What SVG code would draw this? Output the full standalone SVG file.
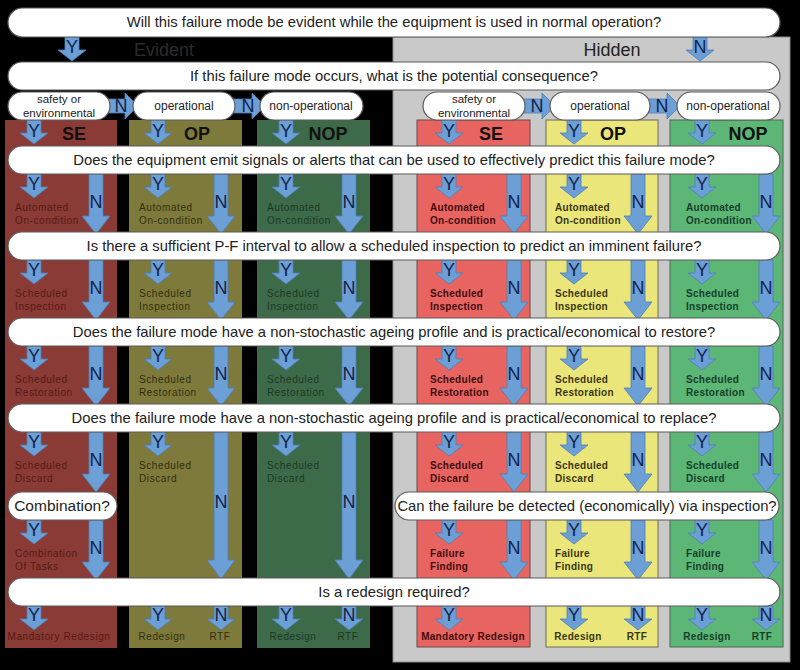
<svg xmlns="http://www.w3.org/2000/svg" xmlns:xlink="http://www.w3.org/1999/xlink" width="800" height="670" viewBox="0 0 800 670">
<style>
.pill{fill:#ffffff;stroke:#5a5a5a;stroke-width:1.2}
.q{font-family:"Liberation Sans",Arial,sans-serif;font-size:14.8px;fill:#222;text-anchor:middle}
.c{font-family:"Liberation Sans",Arial,sans-serif;font-size:12px;fill:#222;text-anchor:middle}
.c2{font-family:"Liberation Sans",Arial,sans-serif;font-size:11.5px;fill:#222;text-anchor:middle}
.ar{fill:#6b9fd6;stroke:#4f7fb8;stroke-width:0.8}
.yn{font-family:"Liberation Sans",Arial,sans-serif;font-size:18px;fill:#14244a;text-anchor:middle}
.hd{font-family:"Liberation Sans",Arial,sans-serif;font-size:18px;font-weight:bold;fill:#111;text-anchor:middle}
.ll{font-family:"Liberation Sans",Arial,sans-serif;font-size:10px;letter-spacing:0.6px}
.lr{font-family:"Liberation Sans",Arial,sans-serif;font-size:10px;font-weight:bold;letter-spacing:0.3px}
.t1{fill:#561a15}.t2{fill:#302e0e}.t3{fill:#1c3824}
.t4{fill:#3e0c0c}.t5{fill:#3a3612}.t6{fill:#17402a}
.mid{text-anchor:middle}
</style>
<defs>
<path id="ya" class="ar" d="M-7,0 H7 V13 H14 L0,24 L-14,13 H-7 Z"/>
<path id="na" class="ar" d="M-7,0 H7 V42 H14 L0,60 L-14,42 H-7 Z"/>
<path id="nl" class="ar" d="M-7,0 H7 V128 H14 L0,147 L-14,128 H-7 Z"/>
<path id="ha" class="ar" d="M0,-7 H20 V-13 L33,0 L20,13 V7 H0 Z"/>
</defs>
<rect x="0" y="0" width="800" height="670" fill="#000"/>
<g id="hidden-panel">
<rect x="393" y="37" width="397" height="625" fill="#c9c9c9" stroke="#8a8a8a" stroke-width="1"/>
<text x="612" y="56" font-family="Liberation Sans,Arial,sans-serif" font-size="18" fill="#222" text-anchor="middle">Hidden</text>
</g>
<g id="evident-label">
<text x="164" y="56" font-family="Liberation Sans,Arial,sans-serif" font-size="18" fill="#2b2b2b" text-anchor="middle">Evident</text>
</g>
<g id="col-se-evident">
<rect x="5" y="120" width="112" height="528" fill="#8a3b35"/>
<text class="hd" x="74" y="140">SE</text>
<g class="ll t1">
<text x="15" y="211">Automated</text><text x="15" y="224">On-condition</text>
<text x="15" y="297">Scheduled</text><text x="15" y="310">Inspection</text>
<text x="15" y="383">Scheduled</text><text x="15" y="396">Restoration</text>
<text x="15" y="469">Scheduled</text><text x="15" y="482">Discard</text>
<text x="15" y="557">Combination</text><text x="15" y="570">Of Tasks</text>
<text x="59" y="640" class="mid">Mandatory Redesign</text>
</g>
</g>
<g id="col-op-evident">
<rect x="129" y="120" width="113" height="528" fill="#7e7a3c"/>
<text class="hd" x="197" y="140">OP</text>
<g class="ll t2">
<text x="139" y="211">Automated</text><text x="139" y="224">On-condition</text>
<text x="139" y="297">Scheduled</text><text x="139" y="310">Inspection</text>
<text x="139" y="383">Scheduled</text><text x="139" y="396">Restoration</text>
<text x="139" y="469">Scheduled</text><text x="139" y="482">Discard</text>
<text x="162" y="640" class="mid">Redesign</text><text x="220" y="640" class="mid">RTF</text>
</g>
</g>
<g id="col-nop-evident">
<rect x="257" y="120" width="113" height="528" fill="#3d6b4a"/>
<text class="hd" x="328" y="140">NOP</text>
<g class="ll t3">
<text x="267" y="211">Automated</text><text x="267" y="224">On-condition</text>
<text x="267" y="297">Scheduled</text><text x="267" y="310">Inspection</text>
<text x="267" y="383">Scheduled</text><text x="267" y="396">Restoration</text>
<text x="267" y="469">Scheduled</text><text x="267" y="482">Discard</text>
<text x="293" y="640" class="mid">Redesign</text><text x="348" y="640" class="mid">RTF</text>
</g>
</g>
<g id="col-se-hidden">
<rect x="417" y="120" width="113" height="527" fill="#e86460" stroke="#6a4a4a" stroke-width="1"/>
<text class="hd" x="491" y="140">SE</text>
<g class="lr t4">
<text x="430" y="211">Automated</text><text x="430" y="224">On-condition</text>
<text x="430" y="297">Scheduled</text><text x="430" y="310">Inspection</text>
<text x="430" y="383">Scheduled</text><text x="430" y="396">Restoration</text>
<text x="430" y="469">Scheduled</text><text x="430" y="482">Discard</text>
<text x="430" y="557">Failure</text><text x="430" y="570">Finding</text>
<text x="473" y="640" class="mid">Mandatory Redesign</text>
</g>
</g>
<g id="col-op-hidden">
<rect x="546" y="120" width="112" height="527" fill="#ebe67a" stroke="#6a6a5a" stroke-width="1"/>
<text class="hd" x="613" y="140">OP</text>
<g class="lr t5">
<text x="555" y="211">Automated</text><text x="555" y="224">On-condition</text>
<text x="555" y="297">Scheduled</text><text x="555" y="310">Inspection</text>
<text x="555" y="383">Scheduled</text><text x="555" y="396">Restoration</text>
<text x="555" y="469">Scheduled</text><text x="555" y="482">Discard</text>
<text x="555" y="557">Failure</text><text x="555" y="570">Finding</text>
<text x="578" y="640" class="mid">Redesign</text><text x="637" y="640" class="mid">RTF</text>
</g>
</g>
<g id="col-nop-hidden">
<rect x="670" y="120" width="113" height="527" fill="#5cb676" stroke="#4a6a55" stroke-width="1"/>
<text class="hd" x="748" y="140">NOP</text>
<g class="lr t6">
<text x="686" y="211">Automated</text><text x="686" y="224">On-condition</text>
<text x="686" y="297">Scheduled</text><text x="686" y="310">Inspection</text>
<text x="686" y="383">Scheduled</text><text x="686" y="396">Restoration</text>
<text x="686" y="469">Scheduled</text><text x="686" y="482">Discard</text>
<text x="686" y="557">Failure</text><text x="686" y="570">Finding</text>
<text x="707" y="640" class="mid">Redesign</text><text x="762" y="640" class="mid">RTF</text>
</g>
</g>
<g id="connectors">
<use href="#ya" x="72" y="37"/><use href="#ya" x="700" y="37"/>
<use href="#ha" x="105" y="106"/><use href="#ha" x="232" y="106"/>
<use href="#ha" x="522" y="106"/><use href="#ha" x="647" y="106"/>
<use href="#ya" x="34" y="120"/><use href="#ya" x="158" y="120"/><use href="#ya" x="286" y="120"/>
<use href="#ya" x="449" y="120"/><use href="#ya" x="574" y="120"/><use href="#ya" x="702" y="120"/>
<use href="#ya" x="34" y="174"/><use href="#ya" x="158" y="174"/><use href="#ya" x="286" y="174"/>
<use href="#ya" x="449" y="174"/><use href="#ya" x="574" y="174"/><use href="#ya" x="702" y="174"/>
<use href="#na" x="96" y="174"/><use href="#na" x="221" y="174"/><use href="#na" x="349" y="174"/>
<use href="#na" x="514" y="174"/><use href="#na" x="638" y="174"/><use href="#na" x="766" y="174"/>
<use href="#ya" x="34" y="260"/><use href="#ya" x="158" y="260"/><use href="#ya" x="286" y="260"/>
<use href="#ya" x="449" y="260"/><use href="#ya" x="574" y="260"/><use href="#ya" x="702" y="260"/>
<use href="#na" x="96" y="260"/><use href="#na" x="221" y="260"/><use href="#na" x="349" y="260"/>
<use href="#na" x="514" y="260"/><use href="#na" x="638" y="260"/><use href="#na" x="766" y="260"/>
<use href="#ya" x="34" y="346"/><use href="#ya" x="158" y="346"/><use href="#ya" x="286" y="346"/>
<use href="#ya" x="449" y="346"/><use href="#ya" x="574" y="346"/><use href="#ya" x="702" y="346"/>
<use href="#na" x="96" y="346"/><use href="#na" x="221" y="346"/><use href="#na" x="349" y="346"/>
<use href="#na" x="514" y="346"/><use href="#na" x="638" y="346"/><use href="#na" x="766" y="346"/>
<use href="#ya" x="34" y="432"/><use href="#ya" x="158" y="432"/><use href="#ya" x="286" y="432"/>
<use href="#ya" x="449" y="432"/><use href="#ya" x="574" y="432"/><use href="#ya" x="702" y="432"/>
<use href="#na" x="96" y="432"/><use href="#nl" x="221" y="432"/><use href="#nl" x="349" y="432"/>
<use href="#na" x="514" y="432"/><use href="#na" x="638" y="432"/><use href="#na" x="766" y="432"/>
<use href="#ya" x="34" y="520"/>
<use href="#ya" x="449" y="520"/><use href="#ya" x="574" y="520"/><use href="#ya" x="702" y="520"/>
<use href="#na" x="96" y="520"/>
<use href="#na" x="514" y="520"/><use href="#na" x="638" y="520"/><use href="#na" x="766" y="520"/>
<use href="#ya" x="34" y="606"/><use href="#ya" x="158" y="606"/><use href="#ya" x="286" y="606"/>
<use href="#ya" x="449" y="606"/><use href="#ya" x="574" y="606"/><use href="#ya" x="702" y="606"/>
<use href="#ya" x="221" y="606"/><use href="#ya" x="349" y="606"/>
<use href="#ya" x="638" y="606"/><use href="#ya" x="766" y="606"/>
<g class="yn">
<text x="72" y="53">Y</text><text x="700" y="53">N</text>
<text x="121" y="112">N</text><text x="248" y="112">N</text><text x="537" y="112">N</text><text x="662" y="112">N</text>
<text x="34" y="137">Y</text><text x="158" y="137">Y</text><text x="286" y="137">Y</text>
<text x="449" y="137">Y</text><text x="574" y="137">Y</text><text x="702" y="137">Y</text>
<text x="34" y="190">Y</text><text x="158" y="190">Y</text><text x="286" y="190">Y</text>
<text x="449" y="190">Y</text><text x="574" y="190">Y</text><text x="702" y="190">Y</text>
<text x="96" y="208">N</text><text x="221" y="208">N</text><text x="349" y="208">N</text>
<text x="514" y="208">N</text><text x="638" y="208">N</text><text x="766" y="208">N</text>
<text x="34" y="276">Y</text><text x="158" y="276">Y</text><text x="286" y="276">Y</text>
<text x="449" y="276">Y</text><text x="574" y="276">Y</text><text x="702" y="276">Y</text>
<text x="96" y="294">N</text><text x="221" y="294">N</text><text x="349" y="294">N</text>
<text x="514" y="294">N</text><text x="638" y="294">N</text><text x="766" y="294">N</text>
<text x="34" y="362">Y</text><text x="158" y="362">Y</text><text x="286" y="362">Y</text>
<text x="449" y="362">Y</text><text x="574" y="362">Y</text><text x="702" y="362">Y</text>
<text x="96" y="380">N</text><text x="221" y="380">N</text><text x="349" y="380">N</text>
<text x="514" y="380">N</text><text x="638" y="380">N</text><text x="766" y="380">N</text>
<text x="34" y="448">Y</text><text x="158" y="448">Y</text><text x="286" y="448">Y</text>
<text x="449" y="448">Y</text><text x="574" y="448">Y</text><text x="702" y="448">Y</text>
<text x="96" y="466">N</text><text x="514" y="466">N</text><text x="638" y="466">N</text><text x="766" y="466">N</text>
<text x="221" y="508">N</text><text x="349" y="508">N</text>
<text x="34" y="536">Y</text><text x="449" y="536">Y</text><text x="574" y="536">Y</text><text x="702" y="536">Y</text>
<text x="96" y="554">N</text><text x="514" y="554">N</text><text x="638" y="554">N</text><text x="766" y="554">N</text>
<text x="34" y="621">Y</text><text x="158" y="621">Y</text><text x="286" y="621">Y</text>
<text x="449" y="621">Y</text><text x="574" y="621">Y</text><text x="702" y="621">Y</text>
<text x="221" y="621">N</text><text x="349" y="621">N</text><text x="638" y="621">N</text><text x="766" y="621">N</text>
</g>
</g>
<g id="q-evident">
<rect class="pill" x="8" y="8" width="772" height="29" rx="14.5"/>
<text class="q" x="394" y="27">Will this failure mode be evident while the equipment is used in normal operation?</text>
</g>
<g id="q-consequence">
<rect class="pill" x="8" y="62" width="772" height="28" rx="14"/>
<text class="q" x="394" y="81">If this failure mode occurs, what is the potential consequence?</text>
</g>
<g id="c-se-evident">
<rect class="pill" x="8" y="92" width="102" height="28" rx="14"/>
<text class="c2" x="59" y="102.5">safety or</text><text class="c2" x="59" y="116.5">environmental</text>
</g>
<g id="c-op-evident">
<rect class="pill" x="133" y="92" width="102" height="28" rx="14"/>
<text class="c" x="184" y="110">operational</text>
</g>
<g id="c-nop-evident">
<rect class="pill" x="260" y="92" width="103" height="28" rx="14"/>
<text class="c" x="311" y="110">non-operational</text>
</g>
<g id="c-se-hidden">
<rect class="pill" x="423" y="92" width="102" height="28" rx="14"/>
<text class="c2" x="474" y="102.5">safety or</text><text class="c2" x="474" y="116.5">environmental</text>
</g>
<g id="c-op-hidden">
<rect class="pill" x="550" y="92" width="100" height="28" rx="14"/>
<text class="c" x="600" y="110">operational</text>
</g>
<g id="c-nop-hidden">
<rect class="pill" x="677" y="92" width="103" height="28" rx="14"/>
<text class="c" x="728" y="110">non-operational</text>
</g>
<g id="q-signals">
<rect class="pill" x="8" y="146" width="772" height="28" rx="14"/>
<text class="q" x="394" y="165">Does the equipment emit signals or alerts that can be used to effectively predict this failure mode?</text>
</g>
<g id="q-pf">
<rect class="pill" x="8" y="232" width="772" height="28" rx="14"/>
<text class="q" x="394" y="251">Is there a sufficient P-F interval to allow a scheduled inspection to predict an imminent failure?</text>
</g>
<g id="q-restore">
<rect class="pill" x="8" y="318" width="772" height="28" rx="14"/>
<text class="q" x="394" y="337">Does the failure mode have a non-stochastic ageing profile and is practical/economical to restore?</text>
</g>
<g id="q-replace">
<rect class="pill" x="8" y="404" width="772" height="28" rx="14"/>
<text class="q" x="394" y="423">Does the failure mode have a non-stochastic ageing profile and is practical/economical to replace?</text>
</g>
<g id="q-combination">
<rect class="pill" x="8" y="492" width="109" height="28" rx="14"/>
<text class="q" x="62" y="511" style="font-size:15.5px">Combination?</text>
</g>
<g id="q-detect">
<rect class="pill" x="395" y="492" width="384" height="28" rx="14"/>
<text class="q" x="587" y="511">Can the failure be detected (economically) via inspection?</text>
</g>
<g id="q-redesign">
<rect class="pill" x="8" y="578" width="772" height="28" rx="14"/>
<text class="q" x="394" y="597">Is a redesign required?</text>
</g>
</svg>
